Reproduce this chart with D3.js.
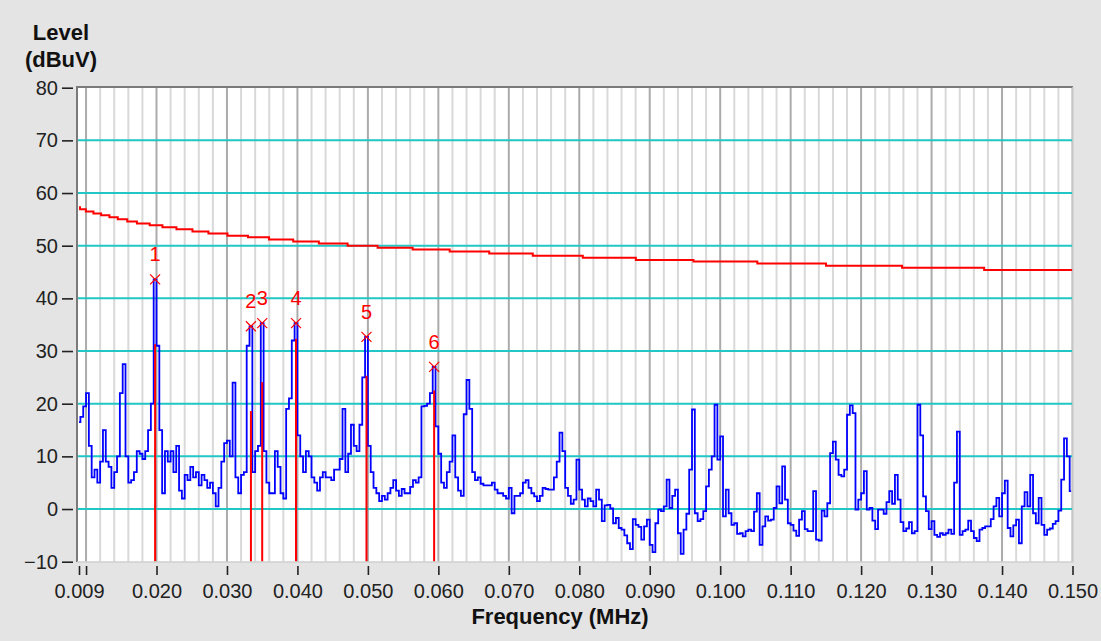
<!DOCTYPE html>
<html>
<head>
<meta charset="utf-8">
<script src="https://cdn.jsdelivr.net/npm/d3@7"></script>
<style>
  html, body { margin: 0; padding: 0; background: #e4e4e4; }
  svg { display: block; }
  text { font-family: "Liberation Sans", Arial, sans-serif; }
</style>
</head>
<body>
<svg id="chart" width="1101" height="641"></svg>
<script>
// Conducted emission scan 9 kHz - 150 kHz: measured trace, limit line and peak markers

// Measured trace, uniformly sampled from freqStart in steps of freqStep (MHz), level in dBuV
const freqStart = 0.009;
const freqStep = 0.0004;
const traceLevels = [
  16.5, 17.5, 19.5, 22, 12, 6, 7.5, 5, 9, 15,
  9, 8, 4, 7, 10, 22, 27.5, 10, 5, 5.5,
  7, 11, 10.5, 9.5, 11, 15, 20, 43.6, 31, 15,
  3, 11, 9, 11, 7, 12, 3.5, 2, 6.5, 5.5,
  8, 6, 7, 4.5, 6.5, 5.5, 4, 5, 3, 0.5,
  4, 9, 12.5, 13, 10, 24, 6, 3, 6.5, 7,
  31, 34.7, 7, 11, 12, 35.3, 11, 5, 3, 3,
  11, 8, 3, 2, 19, 21, 32, 35.3, 14, 10,
  7, 11, 10, 6, 5, 3.5, 6, 7, 6, 6,
  5.5, 7.5, 7.5, 9.5, 19, 7, 10.5, 16, 12, 11,
  16, 25, 32.7, 12, 7, 4, 3, 1.5, 2.5, 1.8,
  3, 4, 5.5, 3.5, 2.5, 3.8, 3, 3, 4.2, 5.5,
  5, 6, 19.5, 19.6, 20, 22, 27, 15.7, 10.5, 5,
  4, 7, 9, 14, 6, 3.5, 2.5, 18, 24.5, 19,
  7, 5.5, 6, 4.8, 4.5, 4.5, 4.5, 5, 3.7, 3,
  3, 2.5, 2, 4, -0.8, 2.5, 2.5, 3, 5, 5.5,
  4, 3, 2.4, 1.5, 2.5, 4, 3.8, 3.7, 3.7, 6,
  9, 14.5, 11, 4, 2.5,
  1.0, 1.8, 9.4, 3.7, 1.8, 0.5, 2.0, 1.5, 0.5, 3.7,
  1.8, -2.3, 0.7, 0.8, 0.1, -2.7, -1.7, -3.6, -3.9, -5.0,
  -6.5, -7.6, -1.9, -3.0, -3.4, -5.8, -3.3, -2.0, -6.8, -8.2,
  -2.7, -0.1, -0.4, 0.5, 5.6, 0.2, 2.5, 3.7, -4.6, -8.5,
  -3.9, -0.9, 7.5, 18.9, -0.8, -2.3, -1.9, -0.4, 4.3, 7.5,
  10, 19.8, 9.4, 13.8, -1.4, 3.7, -0.8, -3.0, -2.7, -4.7,
  -4.6, -5.2, -4.2, -3.9, -4.2, -0.5, 3.0, -6.8, -3.3, -1.4,
  -2.2, -2.0, 0.2, 4.3, 1.1, 8.1, 1.8, -2.7, -3.0, -4.1,
  -5.1, -2.0, -0.4, -3.8, -4.2, -4.2, 3.4, -5.8, -6.0, -0.3,
  -1.4, 1.1, 10.6, 12.8, 9.4, 6.5, 6.2, 7.5, 17.9, 19.7,
  18.2, -0.1, 1.8, 3.0, 7.2, -0.1, 0.2, -2.2, -3.8, -0.1,
  -0.1, -0.9, 1.3, 3.4, 1.0, 6.5, 1.8, -2.5, -4.2, -3.7,
  -2.5, -4.6, -4.2, 19.8, 14, 2.4, -0.4, -3.8, -2.3, -4.9,
  -5.3, -4.6, -4.9, -4.6, -3.9, -4.7, 5, 14.7, -4.9, -4.2,
  -3.9, -2.2, -4.2, -5.5, -6.1, -3.9, -3.6, -3.3, -3.3, -1.9,
  0.5, 2.1, -1.4, 3.0, 5.4, -3.6, -5.2, -3.1, -2.0, -6.5,
  0.5, 3.2, 0.5, 6.5, -0.8, -2.7, 2.1, -3.0, -4.9, -3.9,
  -3.7, -2.8, -2.3, -0.3, 5.6, 13.4, 10.0, 3.4
];

// Limit line: level holds from each frequency up to the next one
const limitFreqs = [
  0.0090, 0.00915, 0.00997, 0.01105, 0.01214, 0.01332, 0.01450, 0.01585,
  0.01722, 0.01903, 0.02084, 0.02283, 0.02510, 0.02737, 0.03007, 0.03298,
  0.03597, 0.03940, 0.04304, 0.04712, 0.05138, 0.05635, 0.06161, 0.06722,
  0.07340, 0.08050, 0.08803, 0.09621, 0.10527, 0.11502, 0.12581, 0.13746,
  0.1500
];
const limitLevels = [
  57.3, 56.9, 56.5, 56.1, 55.8, 55.4, 55.0, 54.6,
  54.2, 53.9, 53.5, 53.1, 52.7, 52.3, 51.9, 51.6,
  51.2, 50.8, 50.4, 50.0, 49.6, 49.3, 48.9, 48.5,
  48.1, 47.7, 47.3, 47.0, 46.6, 46.2, 45.8, 45.4,
  45.4
];

// Peak markers: frequency (MHz), peak level and final-measurement bar level (dBuV)
const markerIds = ["1", "2", "3", "4", "5", "6"];
const markerFreqs = [0.0198, 0.0334, 0.0350, 0.0398, 0.0498, 0.0594];
const markerPeaks = [43.6, 34.7, 35.3, 35.3, 32.7, 27.0];
const markerBars = [31.3, 18.6, 24.1, 32.3, 25.3, 22.5];

// Axes
const xTickValues = [0.009, 0.010, 0.020, 0.030, 0.040, 0.050, 0.060, 0.070,
                     0.080, 0.090, 0.100, 0.110, 0.120, 0.130, 0.140, 0.150];
const xTickLabels = ["0.009", "", "0.020", "0.030", "0.040", "0.050", "0.060", "0.070",
                     "0.080", "0.090", "0.100", "0.110", "0.120", "0.130", "0.140", "0.150"];
const yTickValues = [-10, 0, 10, 20, 30, 40, 50, 60, 70, 80];
const yGridValues = [0, 10, 20, 30, 40, 50, 60, 70];
const xGridMinor = d3.range(0, 71).map(k => +(0.010 + 0.002 * k).toFixed(3));

const svg = d3.select("#chart");
const frame = { left: 77, right: 1073, top: 87, bottom: 562 };

const x = d3.scaleLinear().domain([0.009, 0.150]).range([79, 1072.5]);
const y = d3.scaleLinear().domain([-10, 80]).range([561.7, 87.7]);

const FONT = '"Liberation Sans", Arial, sans-serif';

// plot background
svg.append("rect")
  .attr("x", frame.left).attr("y", frame.top)
  .attr("width", frame.right - frame.left).attr("height", frame.bottom - frame.top)
  .attr("fill", "#ffffff");

svg.append("clipPath").attr("id", "plotClip")
  .append("rect")
  .attr("x", frame.left).attr("y", frame.top)
  .attr("width", frame.right - frame.left).attr("height", frame.bottom - frame.top);

const plot = svg.append("g").attr("clip-path", "url(#plotClip)");

// vertical grid: light every 0.002, darker every 0.010
const isMajor = f => Math.abs(Math.round(f * 1000) % 10) === 0;
plot.append("g").selectAll("line")
  .data(xGridMinor.filter(f => !isMajor(f)))
  .join("line")
  .attr("x1", d => x(d)).attr("x2", d => x(d))
  .attr("y1", frame.top).attr("y2", frame.bottom)
  .attr("stroke", "#d9d9d9").attr("stroke-width", 2);
plot.append("g").selectAll("line")
  .data(xGridMinor.filter(isMajor))
  .join("line")
  .attr("x1", d => x(d)).attr("x2", d => x(d))
  .attr("y1", frame.top).attr("y2", frame.bottom)
  .attr("stroke", "#ababab").attr("stroke-width", 2);

// horizontal grid
plot.append("g").selectAll("line")
  .data(yGridValues)
  .join("line")
  .attr("x1", frame.left).attr("x2", frame.right)
  .attr("y1", d => y(d)).attr("y2", d => y(d))
  .attr("stroke", "#22c6c6").attr("stroke-width", 2);

// limit line
const limitData = limitFreqs.map((f, i) => [f, limitLevels[i]]);
plot.append("path")
  .datum(limitData)
  .attr("fill", "none")
  .attr("stroke", "#ff0000")
  .attr("stroke-width", 2)
  .attr("d", d3.line().x(d => x(d[0])).y(d => y(d[1])).curve(d3.curveStepAfter));

// measured trace, drawn as held samples
const traceData = traceLevels.map((v, i) => [freqStart + i * freqStep, v]);
plot.append("path")
  .datum(traceData)
  .attr("fill", "none")
  .attr("stroke", "#0000ff")
  .attr("stroke-width", 1.8)
  .attr("stroke-linejoin", "miter")
  .attr("d", d3.line().x(d => x(d[0])).y(d => y(d[1])).curve(d3.curveStep));

// marker bars
const markers = markerIds.map((id, i) => ({
  id, f: markerFreqs[i], peak: markerPeaks[i], bar: markerBars[i]
}));
plot.append("g").selectAll("line")
  .data(markers)
  .join("line")
  .attr("x1", d => x(d.f)).attr("x2", d => x(d.f))
  .attr("y1", d => y(d.bar)).attr("y2", y(-10))
  .attr("stroke", "#ff0000").attr("stroke-width", 2);

// marker crosses and numbers
const mk = svg.append("g").selectAll("g")
  .data(markers)
  .join("g")
  .attr("transform", d => `translate(${x(d.f)},${y(d.peak)})`);
mk.append("path")
  .attr("d", "M-5,-5L5,5M-5,5L5,-5")
  .attr("stroke", "#ff0000").attr("stroke-width", 1.2).attr("fill", "none");
mk.append("text")
  .attr("y", -18)
  .attr("text-anchor", "middle")
  .attr("font-size", 20)
  .attr("fill", "#ff0000")
  .text(d => d.id);

// frame (sunken look)
svg.append("path")
  .attr("d", `M${frame.left},${frame.bottom}V${frame.top}H${frame.right}`)
  .attr("fill", "none").attr("stroke", "#7a7a7a").attr("stroke-width", 2);
svg.append("path")
  .attr("d", `M${frame.left},${frame.bottom}H${frame.right}V${frame.top}`)
  .attr("fill", "none").attr("stroke", "#d0d0d0").attr("stroke-width", 1.5);

// y axis
const yAxis = svg.append("g")
  .attr("transform", "translate(73,0)")
  .call(d3.axisLeft(y).tickValues(yTickValues).tickSize(11).tickPadding(4).tickFormat(d3.format("d")));
yAxis.select(".domain").remove();
yAxis.selectAll(".tick line").attr("stroke", "#222").attr("stroke-width", 1.6);
yAxis.selectAll(".tick text")
  .attr("font-size", 20).attr("font-family", FONT).attr("fill", "#222");

// x axis
const xAxis = svg.append("g")
  .attr("transform", "translate(0,566)")
  .call(d3.axisBottom(x).tickValues(xTickValues).tickSize(9).tickPadding(9)
    .tickFormat((d, i) => xTickLabels[i]));
xAxis.select(".domain").remove();
xAxis.selectAll(".tick line").attr("stroke", "#222").attr("stroke-width", 1.6);
xAxis.selectAll(".tick text")
  .attr("font-size", 20).attr("font-family", FONT).attr("fill", "#222");

// axis titles
const yTitle = svg.append("text")
  .attr("x", 61).attr("text-anchor", "middle")
  .attr("font-size", 22).attr("font-weight", "bold").attr("fill", "#111");
yTitle.append("tspan").attr("x", 61).attr("y", 40).text("Level");
yTitle.append("tspan").attr("x", 61).attr("y", 67).text("(dBuV)");

svg.append("text")
  .attr("x", 560).attr("y", 624)
  .attr("text-anchor", "middle")
  .attr("font-size", 22).attr("font-weight", "bold").attr("fill", "#111")
  .text("Frequency (MHz)");
</script>
</body>
</html>
